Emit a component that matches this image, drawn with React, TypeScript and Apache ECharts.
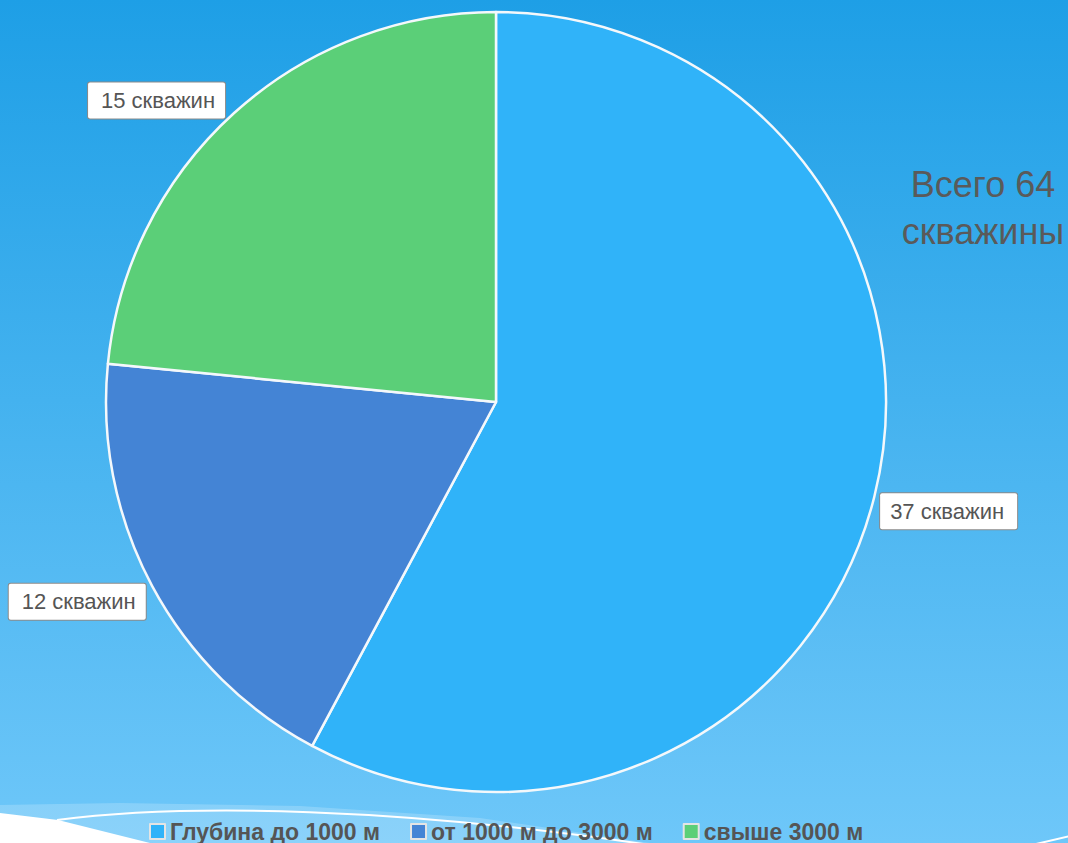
import React, { useEffect, useRef } from "react";
import * as echarts from "echarts";

const categories = ["Глубина до 1000 м", "от 1000 м до 3000 м", "свыше 3000 м"];
const values = [37, 12, 15];
const labels = ["37 скважин", "12 скважин", "15 скважин"];
const colors = ["#30b3f9", "#4484d5", "#5bcf78"];
const totalText = ["Всего 64", "скважины"];

export default function App() {
  const ref = useRef<HTMLDivElement>(null);
  useEffect(() => {
    if (!ref.current) return;
    const chart = echarts.init(ref.current, undefined, { renderer: "svg" });
    const labelShift: Record<number, [number, number]> = {
      0: [-5, 13],
      1: [4, 13],
      2: [0, -8],
    };
    chart.setOption({
      animation: false,
      backgroundColor: new echarts.graphic.LinearGradient(0, 0, 0, 1, [
        { offset: 0, color: "#1e9fe6" },
        { offset: 1, color: "#6ec7f9" },
      ]),
      legend: {
        top: 820,
        left: 149,
        padding: 0,
        icon: "rect",
        itemWidth: 15,
        itemHeight: 15,
        itemGap: 30,
        itemStyle: { borderColor: "#e4e4e4", borderWidth: 2 },
        textStyle: {
          fontSize: 23,
          fontWeight: "bold",
          color: "#555",
          fontFamily: "Liberation Sans, Arial, sans-serif",
        },
        data: categories,
      },
      graphic: [
        {
          type: "polygon",
          silent: true,
          shape: {
            points: [
              [0, 805], [120, 803], [300, 806], [480, 818], [650, 843], [0, 843],
            ],
          },
          style: { fill: "rgba(255,255,255,0.2)" },
          z: 0,
        },
        {
          type: "polygon",
          silent: true,
          shape: { points: [[0, 813], [58, 820], [150, 843], [0, 843]] },
          style: { fill: "#ffffff" },
          z: 0,
        },
        {
          type: "bezierCurve",
          silent: true,
          shape: { x1: 57, y1: 820, cpx1: 190, cpy1: 803, cpx2: 400, cpy2: 808, x2: 650, y2: 845 },
          style: { stroke: "#ffffff", lineWidth: 2, fill: "none" },
          z: 0,
        },
        {
          type: "line",
          silent: true,
          shape: { x1: 1036, y1: 844, x2: 1070, y2: 836 },
          style: { stroke: "#ffffff", lineWidth: 2 },
          z: 0,
        },
        {
          type: "text",
          x: 983,
          y: 161,
          style: {
            text: totalText.join("\n"),
            fontSize: 36,
            lineHeight: 47,
            fill: "#5a5a5a",
            textAlign: "center",
            fontFamily: "Liberation Sans, Arial, sans-serif",
          },
        },
      ],
      series: [
        {
          type: "pie",
          center: [496, 402],
          radius: 390,
          startAngle: 90,
          clockwise: true,
          z: 2,
          itemStyle: { borderColor: "#f4f8fb", borderWidth: 2.5 },
          label: {
            show: true,
            position: "outside",
            formatter: (p: any) => labels[p.dataIndex],
            backgroundColor: "#ffffff",
            borderColor: "#8a8a8a",
            borderWidth: 1,
            borderRadius: 2,
            padding: [7, 10],
            width: 117,
            overflow: "none",
            fontSize: 22,
            color: "#555",
            fontFamily: "Liberation Sans, Arial, sans-serif",
          },
          labelLine: { show: false, length: 6, length2: 0 },
          labelLayout: (p: any) => {
            const s = labelShift[p.dataIndex] || [0, 0];
            return { dx: s[0], dy: s[1] };
          },
          emphasis: { disabled: true },
          data: categories.map((name, i) => ({
            name,
            value: values[i],
            itemStyle: { color: colors[i] },
          })),
        },
      ],
    });
    return () => chart.dispose();
  }, []);
  return (
    <div
      ref={ref}
      style={{ position: "fixed", left: 0, top: 0, width: 1068, height: 843 }}
    />
  );
}
